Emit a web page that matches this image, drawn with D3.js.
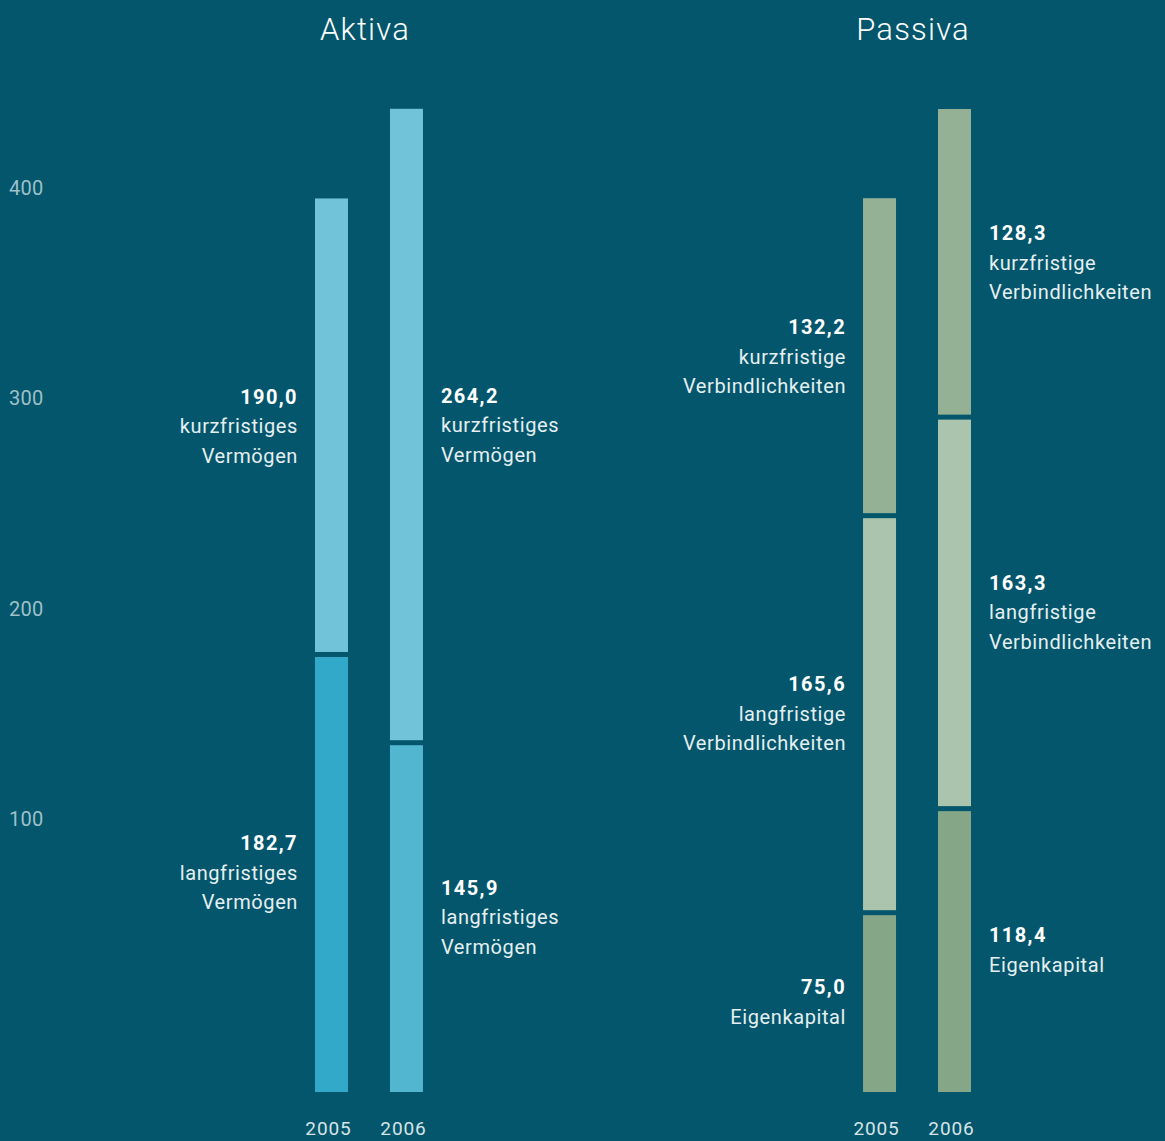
<!DOCTYPE html>
<html lang="de">
<head>
<meta charset="UTF-8">
<title>Bilanzstruktur</title>
<script src="https://d3js.org/d3.v7.min.js"></script>
<style>
  html, body { margin: 0; padding: 0; background: #03566b; }
  svg { display: block; }
</style>
</head>
<body>
<script>
    const width = 1165
    const height = 1141

    // data
    const years = ["2005", "2006"]
    const panels = ["Aktiva", "Passiva"]
    const aktivaLang = [182.7, 145.9]
    const aktivaKurz = [190.0, 264.2]
    const passivaEigen = [75.0, 118.4]
    const passivaLang = [165.6, 163.3]
    const passivaKurz = [132.2, 128.3]
    const axisTicks = [100, 200, 300, 400]

    const aktivaKeys = ["lang", "kurz"]
    const passivaKeys = ["eigen", "lang", "kurz"]
    const labelText = {
        Aktiva: {lang: ["langfristiges", "Vermögen"], kurz: ["kurzfristiges", "Vermögen"]},
        Passiva: {eigen: ["Eigenkapital"], lang: ["langfristige", "Verbindlichkeiten"], kurz: ["kurzfristige", "Verbindlichkeiten"]}
    }
    const colors = {
        Aktiva: {lang: ["#33a9c9", "#52b6d0"], kurz: ["#70c3d8", "#70c3d8"]},
        Passiva: {eigen: ["#86a688", "#86a688"], lang: ["#abc4ae", "#abc4ae"], kurz: ["#94b195", "#94b195"]}
    }

    const aktivaRows = years.map((y, i) => ({year: y, lang: aktivaLang[i], kurz: aktivaKurz[i]}))
    const passivaRows = years.map((y, i) => ({year: y, eigen: passivaEigen[i], lang: passivaLang[i], kurz: passivaKurz[i]}))

    const de = d3.formatLocale({decimal: ",", thousands: ".", grouping: [3], currency: ["", " €"]})
    const fmt = de.format(".1f")

    const svg = d3.select("body").append("svg")
        .attr("width", width)
        .attr("height", height)

    svg.append("rect").attr("width", width).attr("height", height).attr("fill", "#03566b")

    const font = "Roboto, 'Open Sans', sans-serif"

    const xPanel = d3.scaleBand().domain(panels).range([315, 971]).paddingInner(0.803).paddingOuter(0)
    const xYear = d3.scaleBand().domain(years).range([0, xPanel.bandwidth()]).paddingInner(0.56).paddingOuter(0)
    const y = d3.scaleLinear().domain([0, 400]).range([1092, 133])

    // decorative value axis at the left
    const yAxisScale = d3.scaleLinear().domain([0, 400]).range([1030, 188])
    const yAxis = d3.axisLeft(yAxisScale).tickValues(axisTicks).tickSize(0).tickPadding(0)
    const gAxis = svg.append("g")
        .attr("transform", "translate(9,0)")
        .call(yAxis)
    gAxis.select(".domain").remove()
    gAxis.selectAll("text")
        .attr("text-anchor", "start")
        .attr("fill", "#9fc0c9")
        .attr("font-family", font)
        .attr("font-size", 20)
        .attr("letter-spacing", 0.3)

    const gap = 5
    const lineH = 29.5

    function drawPanel(name, rows, keys) {
        const g = svg.append("g").attr("transform", "translate(" + xPanel(name) + ",0)")
        const series = d3.stack().keys(keys)(rows)

        g.append("text")
            .text(name)
            .attr("x", xPanel.bandwidth() / 2 - 4)
            .attr("y", 40)
            .attr("text-anchor", "middle")
            .attr("fill", "#ffffff")
            .attr("font-family", font)
            .attr("font-weight", 300)
            .attr("font-size", 31)
            .attr("letter-spacing", 1.2)

        series.forEach(function (s, si) {
            const isTop = si === series.length - 1
            g.selectAll(null)
                .data(s)
                .enter()
                .append("rect")
                .attr("x", d => xYear(d.data.year))
                .attr("width", xYear.bandwidth())
                .attr("y", d => y(d[1]) + (isTop ? 0 : gap / 2 + 0.5))
                .attr("height", d => y(d[0]) - y(d[1]) - (isTop ? 0 : gap / 2 + 0.5) - (d[0] > 0 ? gap / 2 - 0.5 : 0))
                .attr("fill", (d, i) => colors[name][s.key][i])

            s.forEach(function (d, i) {
                const lines = [fmt(d[1] - d[0])].concat(labelText[name][s.key])
                const left = i === 0
                const cx = left ? xYear(d.data.year) - 17 : xYear(d.data.year) + xYear.bandwidth() + 18
                const cy = (y(d[0]) + y(d[1])) / 2
                const first = cy - (lines.length - 1) * lineH / 2 + 7
                const t = g.append("text")
                    .attr("text-anchor", left ? "end" : "start")
                    .attr("font-family", font)
                    .attr("font-size", 20)
                lines.forEach(function (l, li) {
                    t.append("tspan")
                        .attr("x", cx)
                        .attr("y", first + li * lineH)
                        .attr("font-weight", li === 0 ? 700 : 400)
                        .attr("letter-spacing", li === 0 ? 1.4 : 0.6)
                        .attr("fill", li === 0 ? "#ffffff" : "#e6eff2")
                        .text(l)
                })
            })
        })

        g.selectAll(".year")
            .data(years)
            .enter()
            .append("text")
            .attr("class", "year")
            .text(d => d)
            .attr("x", d => xYear(d) + xYear.bandwidth() / 2 - 3)
            .attr("y", 1135)
            .attr("text-anchor", "middle")
            .attr("fill", "#d6e5e9")
            .attr("font-family", font)
            .attr("font-size", 19)
            .attr("letter-spacing", 0.9)
    }

    drawPanel("Aktiva", aktivaRows, aktivaKeys)
    drawPanel("Passiva", passivaRows, passivaKeys)
</script>
</body>
</html>
